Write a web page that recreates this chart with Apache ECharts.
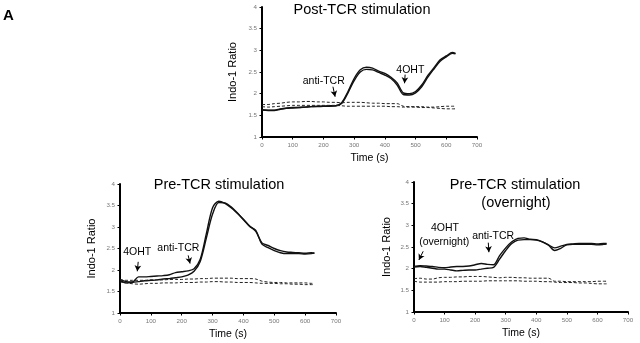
<!DOCTYPE html>
<html><head><meta charset="utf-8">
<script src="https://cdn.jsdelivr.net/npm/echarts@6/dist/echarts.min.js"></script>
<style>html,body{margin:0;padding:0;background:#fff}#c{width:640px;height:343px}</style>
</head><body><div id="c"></div>
<script>
const time = [0,20,40,60,80,100,120,140,160,180,200,220,240,260,280,300,320,340,360,380,400,420,440,460,480,500,520,540,560,580,600,620,630];
const xTicks = [0,100,200,300,400,500,600,700];
const yTicks = [1,1.5,2,2.5,3,3.5,4];

// Post-TCR stimulation
const postSolid1 = [1.62,1.61,1.61,1.64,1.66,1.67,1.68,1.69,1.70,1.70,1.71,1.71,1.72,1.80,2.05,2.35,2.55,2.61,2.59,2.52,2.47,2.38,2.25,2.02,2.00,2.05,2.20,2.42,2.60,2.78,2.87,2.95,2.93];
const postSolid2 = [1.63,1.62,1.62,1.65,1.67,1.68,1.68,1.69,1.70,1.71,1.71,1.72,1.72,1.78,2.02,2.30,2.50,2.56,2.55,2.49,2.43,2.35,2.20,1.98,1.97,2.02,2.16,2.38,2.57,2.75,2.85,2.93,2.92];
const postDash1 = [1.75,1.75,1.77,1.78,1.80,1.81,1.81,1.82,1.82,1.81,1.81,1.80,1.80,1.79,1.80,1.80,1.80,1.79,1.78,1.78,1.77,1.77,1.77,1.71,1.70,1.70,1.70,1.69,1.69,1.70,1.71,1.71,1.71];
const postDash2 = [1.70,1.69,1.70,1.71,1.72,1.73,1.73,1.73,1.73,1.73,1.73,1.73,1.73,1.72,1.71,1.71,1.71,1.71,1.71,1.71,1.71,1.70,1.70,1.69,1.69,1.69,1.68,1.68,1.67,1.66,1.65,1.65,1.65];

// Pre-TCR stimulation
const preSolid1 = [1.78,1.73,1.72,1.84,1.84,1.85,1.86,1.87,1.89,1.94,1.96,1.98,2.03,2.25,2.85,3.45,3.60,3.55,3.45,3.32,3.18,3.02,2.90,2.63,2.57,2.50,2.45,2.42,2.41,2.40,2.39,2.40,2.39];
const preSolid2 = [1.76,1.70,1.71,1.73,1.75,1.76,1.77,1.79,1.80,1.82,1.84,1.88,1.97,2.20,2.75,3.30,3.57,3.56,3.47,3.33,3.17,3.02,2.92,2.60,2.52,2.45,2.40,2.38,2.38,2.38,2.37,2.38,2.40];
const preDash1 = [1.77,1.76,1.76,1.76,1.76,1.77,1.77,1.77,1.78,1.78,1.78,1.79,1.79,1.80,1.80,1.81,1.81,1.81,1.81,1.80,1.80,1.80,1.79,1.74,1.72,1.71,1.71,1.70,1.70,1.70,1.70,1.69,1.69];
const preDash2 = [1.72,1.70,1.68,1.67,1.68,1.69,1.69,1.70,1.70,1.70,1.71,1.71,1.71,1.72,1.72,1.73,1.73,1.72,1.72,1.71,1.71,1.71,1.70,1.69,1.69,1.69,1.68,1.68,1.67,1.67,1.66,1.66,1.66];

// Pre-TCR stimulation (overnight)
const ovSolid1 = [2.05,2.07,2.06,2.05,2.03,2.02,2.04,2.05,2.05,2.06,2.09,2.12,2.10,2.09,2.30,2.48,2.62,2.70,2.71,2.68,2.67,2.62,2.55,2.48,2.52,2.56,2.57,2.58,2.58,2.58,2.57,2.58,2.58];
const ovSolid2 = [2.04,2.05,2.03,2.01,1.99,1.99,1.97,1.95,1.96,1.97,1.97,1.99,2.01,2.03,2.22,2.42,2.58,2.66,2.67,2.67,2.66,2.62,2.54,2.42,2.47,2.55,2.56,2.56,2.56,2.56,2.55,2.56,2.57];
const ovDash1 = [1.77,1.78,1.76,1.76,1.79,1.80,1.80,1.81,1.81,1.82,1.82,1.82,1.81,1.80,1.79,1.80,1.80,1.79,1.79,1.78,1.78,1.78,1.78,1.71,1.71,1.70,1.70,1.70,1.70,1.70,1.71,1.71,1.71];
const ovDash2 = [1.71,1.69,1.69,1.69,1.69,1.70,1.70,1.70,1.71,1.71,1.71,1.71,1.72,1.72,1.72,1.72,1.72,1.72,1.71,1.71,1.71,1.70,1.70,1.69,1.68,1.68,1.68,1.67,1.67,1.66,1.65,1.65,1.65];

// annotations: [panel, text, x, y]
const labels = [
  [0,'anti-TCR',201,2.28],[0,'4OHT',483,2.55],
  [1,'4OHT',56,2.42],[1,'anti-TCR',189,2.52],
  [2,'4OHT',101,2.94],[2,'(overnight)',99,2.61],[2,'anti-TCR',259,2.76]
];
// arrows: [panel, x0, y0, x1, y1]
const arrows = [
  [0,231,2.16,238,1.93],[0,466,2.44,464,2.24],
  [1,59,2.19,56,1.97],[1,221,2.34,227,2.15],
  [2,30,2.40,16,2.20],[2,243,2.60,245,2.38]
];

const FONT = '"Liberation Sans", Arial, sans-serif';
const grids = [
  {left:262, right:163, top:7, bottom:206},
  {left:120, right:304, top:184, bottom:30},
  {left:414, right:12, top:182, bottom:31}
];
const nameGapY = [24,23,22];
const xAxes = grids.map((g,i)=>({
  type:'value', gridIndex:i, min:0, max:700, interval:100,
  name:'Time (s)', nameLocation:'middle', nameGap:16,
  nameTextStyle:{fontFamily:FONT, fontSize:10.5, color:'#000'},
  axisLine:{lineStyle:{color:'#000', width:2}},
  axisTick:{show:true, length:2.5, lineStyle:{color:'#000', width:1}},
  axisLabel:{fontFamily:FONT, fontSize:6.2, color:'#777', margin:5},
  splitLine:{show:false}
}));
const yAxes = grids.map((g,i)=>({
  type:'value', gridIndex:i, min:1, max:4, interval:0.5,
  name:'Indo-1 Ratio', nameLocation:'middle', nameGap:nameGapY[i], nameRotate:90,
  nameTextStyle:{fontFamily:FONT, fontSize:11, color:'#000'},
  axisLine:{show:true, lineStyle:{color:'#000', width:2}},
  axisTick:{show:true, length:2.5, lineStyle:{color:'#000', width:1}},
  axisLabel:{fontFamily:FONT, fontSize:6.2, color:'#777', margin:5},
  splitLine:{show:false}
}));

function pairs(vals){ return time.map((t,i)=>[t, vals[i]]); }
const panels = [
  [postSolid1, postSolid2, postDash1, postDash2],
  [preSolid1, preSolid2, preDash1, preDash2],
  [ovSolid1, ovSolid2, ovDash1, ovDash2]
];
const series = [];
panels.forEach((arrs, p)=>{
  arrs.forEach((vals, k)=>{
    const dashed = k>=2;
    series.push({
      type:'line', xAxisIndex:p, yAxisIndex:p, data:pairs(vals),
      showSymbol:false, smooth:0.3, silent:true, animation:false,
      lineStyle:{color: dashed?'#222':'#111', width: dashed?1:1.4, type: dashed?[3,2]:'solid'}
    });
  });
  series.push({
    type:'scatter', xAxisIndex:p, yAxisIndex:p, symbolSize:0, silent:true, animation:false,
    itemStyle:{opacity:1, color:'#000'},
    data: labels.filter(l=>l[0]===p).map(l=>({value:[l[2],l[3]], name:l[1]})),
    label:{show:true, position:'inside', formatter:'{b}', fontFamily:FONT, fontSize:10.5, color:'#000', opacity:1, textBorderWidth:0},
    markLine:{
      silent:true, animation:false, symbol:['none','arrow'], symbolSize:[5,6],
      label:{show:false}, lineStyle:{color:'#000', width:1, type:'solid', opacity:1},
      data: arrows.filter(a=>a[0]===p).map(a=>[{coord:[a[1],a[2]]},{coord:[a[3],a[4]]}])
    }
  });
});

const chart = echarts.init(document.getElementById('c'), null, {renderer:'canvas'});
chart.setOption({
  animation:false,
  backgroundColor:'#fff',
  grid: grids,
  xAxis: xAxes,
  yAxis: yAxes,
  series: series,
  graphic:[
    {type:'text', left:3, top:8, style:{text:'A', fontFamily:FONT, fontSize:15, fontWeight:'bold', fill:'#000'}},
    {type:'text', x:362, y:10, style:{text:'Post-TCR stimulation', fontFamily:FONT, fontSize:14.5, fill:'#000', textAlign:'center', textVerticalAlign:'middle'}},
    {type:'text', x:219, y:185, style:{text:'Pre-TCR stimulation', fontFamily:FONT, fontSize:14.5, fill:'#000', textAlign:'center', textVerticalAlign:'middle'}},
    {type:'text', x:515, y:185, style:{text:'Pre-TCR stimulation', fontFamily:FONT, fontSize:14.5, fill:'#000', textAlign:'center', textVerticalAlign:'middle'}},
    {type:'text', x:516, y:203, style:{text:'(overnight)', fontFamily:FONT, fontSize:14.5, fill:'#000', textAlign:'center', textVerticalAlign:'middle'}}
  ]
});
</script></body></html>
